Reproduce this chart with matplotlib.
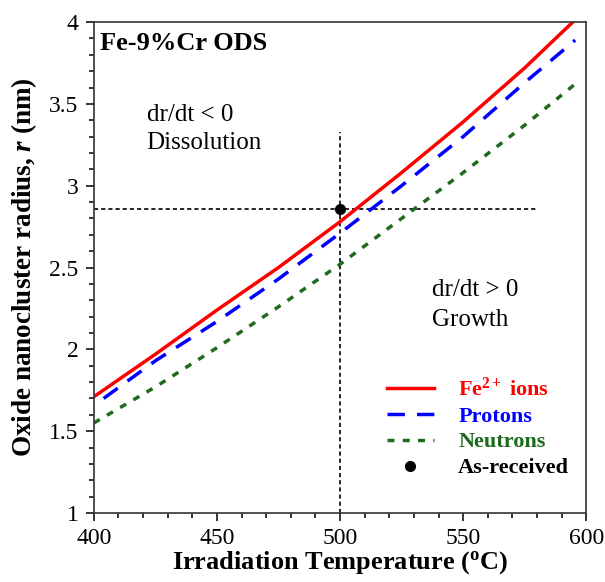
import numpy as np
import matplotlib.pyplot as plt

plt.rcParams['font.family'] = 'Liberation Serif'
plt.rcParams['mathtext.fontset'] = 'custom'
plt.rcParams['mathtext.rm'] = 'Liberation Serif:bold'
plt.rcParams['mathtext.it'] = 'Liberation Serif:bold:italic'
plt.rcParams['mathtext.bf'] = 'Liberation Serif:bold'

# --- data ---
t_fe = [400, 425, 450, 475, 500, 525, 550, 575, 594.5]
r_fe = [1.71, 1.97, 2.24, 2.50, 2.78, 3.08, 3.39, 3.72, 4.00]

t_p = [404, 425, 450, 475, 500, 525, 550, 575, 595.5]
r_p = [1.70, 1.93, 2.17, 2.43, 2.71, 3.00, 3.30, 3.63, 3.89]

t_n = [400, 425, 450, 475, 500, 525, 550, 575, 597]
r_n = [1.55, 1.77, 2.01, 2.26, 2.52, 2.80, 3.08, 3.37, 3.64]

t_asrec = 500
r_asrec = 2.86

red = '#ff0000'
blue = '#0000ff'
green = '#1e6b1e'

fig = plt.figure(figsize=(6.05, 5.82), dpi=100)
ax = fig.add_axes([0.155, 0.1186, 0.814, 0.8434])

# guide lines through the as-received point
ax.plot([t_asrec, t_asrec], [1, 3.33], color='black', lw=1.2, dashes=(2.5, 1.8))
ax.plot([400, 580.5], [r_asrec, r_asrec], color='black', lw=1.2, dashes=(2.5, 1.8))

ax.plot(t_fe, r_fe, color=red, lw=2.5, label='Fe$^{2+}$ ions')
ax.plot(t_p, r_p, color=blue, lw=2.5, dashes=(5.0, 3.5), label='Protons')
ax.plot(t_n, r_n, color=green, lw=2.5, dashes=(2.0, 2.4), label='Neutrons')
ax.plot([t_asrec], [r_asrec], 'o', color='black', ms=7, label='As-received')

ax.set_xlim(400, 600)
ax.set_ylim(1, 4)
ax.set_xticks([400, 450, 500, 550, 600])
ax.set_xticks(np.arange(400, 601, 10), minor=True)
ax.set_yticks([1, 1.5, 2, 2.5, 3, 3.5, 4])
ax.set_yticklabels(['1', '1.5', '2', '2.5', '3', '3.5', '4'])
ax.set_yticks(np.arange(1, 4.01, 0.1), minor=True)
ax.tick_params(which='both', direction='out', top=False, right=False, labelsize=17, width=1.1, pad=5)
ax.tick_params(which='major', length=6)
ax.tick_params(which='minor', length=3.5)
for s in ax.spines.values():
    s.set_linewidth(1.2)
    s.set_color('#333333')

ax.set_xlabel('Irradiation Temperature ($^{\\mathrm{o}}$C)', fontsize=19, fontweight='bold')
ax.set_ylabel('Oxide nanocluster radius, $\\mathit{r}$ (nm)', fontsize=19.5, fontweight='bold')
ax.xaxis.set_label_coords(0.5, -0.073)
ax.yaxis.set_label_coords(-0.112, 0.5)

ax.text(402.4, 3.87, 'Fe-9%Cr ODS', fontsize=19, fontweight='bold', va='center', ha='left')
ax.text(421.5, 3.43, 'dr/dt < 0', fontsize=18, va='center', ha='left')
ax.text(421.5, 3.26, 'Dissolution', fontsize=18, va='center', ha='left')
ax.text(537.4, 2.36, 'dr/dt > 0', fontsize=18, va='center', ha='left')
ax.text(537.4, 2.18, 'Growth', fontsize=18, va='center', ha='left')

leg = ax.legend(loc='upper left', bbox_to_anchor=(0.5955, 0.276), frameon=False,
                prop={'family': 'Liberation Serif', 'weight': 'bold', 'size': 16},
                handlelength=2.1, handletextpad=1.1, labelspacing=0.24,
                borderpad=0, borderaxespad=0,
                labelcolor=[red, blue, green, 'black'])

fig.savefig('out.png', dpi=100)
